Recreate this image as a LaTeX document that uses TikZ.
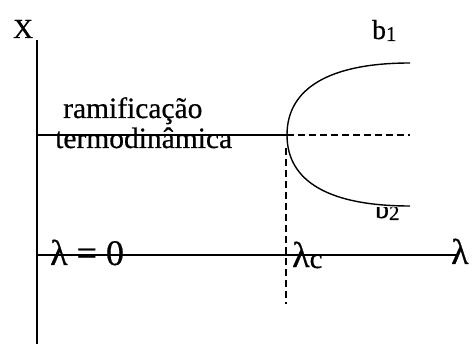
\documentclass[tikz,border=0pt]{standalone}
\usepackage{fontspec}
\setmainfont{Liberation Serif}[FakeBold=0.6]
\begin{document}
\begin{tikzpicture}[x=1pt,y=-1pt,
  axis/.style={line width=1.4pt},
  dashline/.style={line width=1.4pt, dash pattern=on 7pt off 4pt},
  lbl/.style={inner sep=0pt, anchor=base west},
  big/.style={font=\fontsize{27.5}{30}\selectfont},
  lam/.style={font=\fontsize{36}{38}\selectfont}]
\useasboundingbox (0,0) rectangle (473,344);
% coordinates
\coordinate (vtop) at (37,40);
\coordinate (vbot) at (37,344);
\coordinate (tstart) at (37,135);
\coordinate (bif) at (287,135);
\coordinate (dend) at (410,135);
\coordinate (b1end) at (410,63);
\coordinate (b2end) at (410,206);
\coordinate (lstart) at (37,255);
\coordinate (lend) at (458,255);
\coordinate (dctop) at (286,148);
\coordinate (dcbot) at (286,304);
% b2 label, partly hidden
\begin{scope}
  \clip (360,208) rectangle (420,230);
  \node[lbl, big] (b2) at (375,218) {b\raisebox{-2pt}{\fontsize{21}{21}\selectfont 2}};
\end{scope}
% axes and branches
\draw[axis] (vtop) -- (vbot);
\draw[axis] (lstart) -- (lend);
\draw[axis] (tstart) -- (bif);
\draw[dashline] (bif) -- (dend);
\draw[dashline] (dctop) -- (dcbot);
\draw[axis] (b1end) .. controls (330,63) and (287,88) .. (bif)
  .. controls (287,182) and (330,206) .. (b2end);
% labels
\node[lbl, big] (X) at (13,38) {X};
\node[lbl, big] (b1) at (372,39) {b\raisebox{-2pt}{\fontsize{21}{21}\selectfont 1}};
\node[lbl, align=left, font=\fontsize{29.5}{30}\selectfont] (ram) at (55,148)
  {\hspace*{8pt}ramificação\\termodinâmica};
\node[lbl, lam] (l0) at (50,265) {λ = 0};
\node[lbl, lam] (lc) at (292,267) {λ\raisebox{-1pt}{\fontsize{29}{29}\selectfont c}};
\node[lbl, lam] (l) at (451,264) {λ};
\end{tikzpicture}
\end{document}
